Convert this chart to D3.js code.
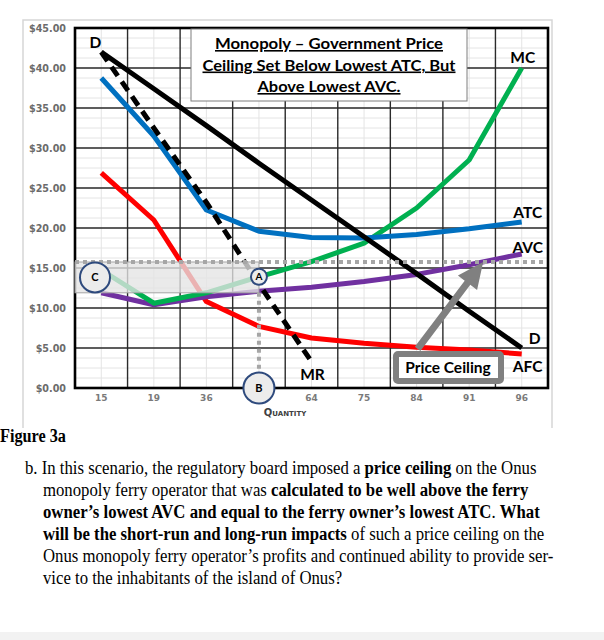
<!DOCTYPE html>
<html>
<head>
<meta charset="utf-8">
<script src="https://cdn.jsdelivr.net/npm/d3@7"></script>
<style>
  body { margin: 0; background: #fff; }
  svg { display: block; }
</style>
</head>
<body>
<svg width="604" height="640"></svg>
<script>
// quantities on the category axis (the one under "B" has no printed label)
const categories = [15, 19, 36, 48, 64, 75, 84, 91, 96];
const tickLabels = ["15", "19", "36", "", "64", "75", "84", "91", "96"];
const priceTicks = [0, 5, 10, 15, 20, 25, 30, 35, 40, 45];

// $ per unit
const demand = [42.0, 37.4, 32.8, 28.1, 23.5, 18.9, 14.3, 9.6, 5.0];
const marginalRevenue = [42.0, 32.5, 23.2, 13.0, 3.3, null, null, null, null];
const atc = [38.75, 31.5, 22.25, 19.6, 18.8, 18.75, 19.2, 19.9, 20.75];
const mc = [14.75, 10.6, 11.9, 13.9, 15.8, 18.1, 22.5, 28.5, 40.0];
const avc = [11.9, 10.4, 11.4, 12.1, 12.6, 13.3, 14.2, 15.4, 16.75];
const afc = [26.9, 21.0, 10.8, 7.7, 6.25, 5.6, 5.1, 4.75, 4.25];

const priceCeiling = 15.75;
const lossFloor = 11.9;

const titleLines = [
  "Monopoly \u2013 Government Price",
  "Ceiling Set Below Lowest ATC, But",
  "Above Lowest AVC."
];
const figureCaption = "Figure 3a";
const paragraph = [
  [["b. In this scenario, the regulatory board imposed a ", 0], ["price ceiling", 1], [" on the Onus", 0]],
  [["monopoly ferry operator that was ", 0], ["calculated to be well above the ferry", 1]],
  [["owner\u2019s lowest AVC and equal to the ferry owner\u2019s lowest ATC", 1], [". ", 0], ["What", 1]],
  [["will be the short-run and long-run impacts", 1], [" of such a price ceiling on the", 0]],
  [["Onus monopoly ferry operator\u2019s profits and continued ability to provide ser-", 0]],
  [["vice to the inhabitants of the island of Onus?", 0]]
];

const svg = d3.select("svg");
const plot = { left: 75, right: 548, top: 28, bottom: 388 };

const x = d3.scaleBand().domain(d3.range(categories.length)).range([plot.left, plot.right]);
const y = d3.scaleLinear().domain([0, 45]).range([plot.bottom, plot.top]);
const cx = (i) => x(i) + x.bandwidth() / 2;

// light outer chart frame
svg.append("path")
  .attr("d", "M23,428V20H552V428")
  .attr("fill", "none")
  .attr("stroke", "#d6d6d6")
  .attr("stroke-width", 1.5);

// minor grid
const grid = svg.append("g");
grid.selectAll(".hmin")
  .data(d3.range(0, 45.01, 1.25))
  .join("line")
  .attr("x1", plot.left).attr("x2", plot.right)
  .attr("y1", (d) => y(d)).attr("y2", (d) => y(d))
  .attr("stroke", "#e4e4e4").attr("stroke-width", 1);
grid.selectAll(".vmin")
  .data(d3.range(categories.length))
  .join("line")
  .attr("x1", cx).attr("x2", cx)
  .attr("y1", plot.top).attr("y2", plot.bottom)
  .attr("stroke", "#e4e4e4").attr("stroke-width", 1);

// major grid
grid.append("g").selectAll("line")
  .data(priceTicks.slice(1, -1))
  .join("line")
  .attr("x1", plot.left).attr("x2", plot.right)
  .attr("y1", (d) => y(d)).attr("y2", (d) => y(d))
  .attr("stroke", "#2b2b2b").attr("stroke-width", 1.4);
grid.append("g").selectAll("line")
  .data(d3.range(1, categories.length))
  .join("line")
  .attr("x1", (i) => x(i)).attr("x2", (i) => x(i))
  .attr("y1", plot.top).attr("y2", plot.bottom)
  .attr("stroke", "#2b2b2b").attr("stroke-width", 1.4);

svg.append("rect")
  .attr("x", plot.left).attr("y", plot.top)
  .attr("width", plot.right - plot.left).attr("height", plot.bottom - plot.top)
  .attr("fill", "none").attr("stroke", "#000").attr("stroke-width", 2.6);

// axes
const yAxis = svg.append("g")
  .attr("transform", `translate(${plot.left - 6},0)`)
  .call(d3.axisLeft(y).tickValues(priceTicks).tickSize(0).tickFormat((d) => "$" + d3.format(".2f")(d)));
yAxis.select(".domain").remove();
yAxis.selectAll("text")
  .attr("font-family", "DejaVu Sans").attr("font-weight", "bold")
  .attr("font-size", 9.6).attr("fill", "#6b6b6b");

const xAxis = svg.append("g")
  .attr("transform", `translate(0,${plot.bottom + 4})`)
  .call(d3.axisBottom(x).tickSize(0).tickFormat((i) => tickLabels[i]));
xAxis.select(".domain").remove();
xAxis.selectAll("text")
  .attr("font-family", "DejaVu Sans").attr("font-weight", "bold")
  .attr("font-size", 9).attr("fill", "#7a7a7a");

svg.append("text")
  .attr("x", 285).attr("y", 416)
  .attr("text-anchor", "middle")
  .attr("font-family", "DejaVu Sans").attr("font-weight", "bold")
  .attr("font-size", 10).attr("fill", "#404040")
  .style("font-variant", "small-caps")
  .text("Quantity");

// curves
const series = [
  { name: "AFC", values: afc, color: "#ff0000" },
  { name: "AVC", values: avc, color: "#7030a0" },
  { name: "MC", values: mc, color: "#00b050" },
  { name: "ATC", values: atc, color: "#0070c0" },
  { name: "D", values: demand, color: "#000000" },
  { name: "MR", values: marginalRevenue, color: "#000000", dash: "11,7" }
];
const line = d3.line()
  .defined((d) => d != null)
  .x((d, i) => cx(i))
  .y((d) => y(d));

svg.append("g").selectAll("path")
  .data(series)
  .join("path")
  .attr("d", (s) => line(s.values))
  .attr("fill", "none")
  .attr("stroke", (s) => s.color)
  .attr("stroke-width", 5)
  .attr("stroke-linejoin", "round")
  .attr("stroke-dasharray", (s) => s.dash || null);

// shaded loss box (washes out the curves under it)
svg.append("rect")
  .attr("x", plot.left).attr("y", y(priceCeiling))
  .attr("width", cx(3) - plot.left).attr("height", y(lossFloor) - y(priceCeiling))
  .attr("fill", "#e4e4e4").attr("fill-opacity", 0.78)
  .attr("stroke", "#a6a6a6").attr("stroke-width", 1);

// price ceiling dotted line and drop line A -> B
svg.append("line")
  .attr("x1", plot.left).attr("x2", plot.right - 4)
  .attr("y1", y(priceCeiling)).attr("y2", y(priceCeiling))
  .attr("stroke", "#a6a6a6").attr("stroke-width", 4).attr("stroke-dasharray", "4,4");
svg.append("line")
  .attr("x1", cx(3)).attr("x2", cx(3))
  .attr("y1", y(lossFloor)).attr("y2", y(0) - 12)
  .attr("stroke", "#a6a6a6").attr("stroke-width", 4).attr("stroke-dasharray", "4,4");

// gray arrow to the ceiling line
const tail = [cx(6) + 1, y(4.9)], tip = [cx(7) + 14, y(priceCeiling)];
(function drawArrow() {
  const dx = tip[0] - tail[0], dy = tip[1] - tail[1];
  const len = Math.hypot(dx, dy), ux = dx / len, uy = dy / len, px = -uy, py = ux;
  const sw = 3.5, hl = 26, hw = 12;
  const bx = tip[0] - ux * hl, by = tip[1] - uy * hl;
  const pts = [
    [tail[0] + px * sw, tail[1] + py * sw],
    [bx + px * sw, by + py * sw],
    [bx + px * hw, by + py * hw],
    tip,
    [bx - px * hw, by - py * hw],
    [bx - px * sw, by - py * sw],
    [tail[0] - px * sw, tail[1] - py * sw]
  ];
  svg.append("polygon")
    .attr("points", pts.map((p) => p.join(",")).join(" "))
    .attr("fill", "#808080");
})();

// price ceiling callout
svg.append("rect")
  .attr("x", 396).attr("y", 354).attr("width", 105).attr("height", 27)
  .attr("rx", 2)
  .attr("fill", "#fff").attr("stroke", "#808080").attr("stroke-width", 6);
svg.append("text")
  .attr("x", 448).attr("y", 373)
  .attr("text-anchor", "middle")
  .attr("font-family", "Lato").attr("font-weight", "bold").attr("font-size", 15.5)
  .attr("fill", "#000")
  .text("Price Ceiling");

// title box
svg.append("rect")
  .attr("x", 191).attr("y", 29).attr("width", 276).attr("height", 72)
  .attr("fill", "#fff").attr("stroke", "#7f7f7f").attr("stroke-width", 1);
const titleW = [228, 253, 143];
svg.append("g").selectAll("text")
  .data(titleLines)
  .join("text")
  .attr("x", 329).attr("y", (d, i) => 49 + i * 21.5)
  .attr("text-anchor", "middle")
  .attr("font-family", "Lato").attr("font-weight", "bold").attr("font-size", 16)
  .attr("textLength", (d, i) => titleW[i]).attr("lengthAdjust", "spacingAndGlyphs")
  .style("text-decoration", "underline")
  .text((d) => d);

// curve labels
const curveLabels = [
  { t: "D", x: cx(0) - 6, y: y(demand[0]) - 4 },
  { t: "MC", x: cx(8) + 1, y: y(mc[8]) - 5 },
  { t: "ATC", x: cx(8) + 6, y: y(atc[8]) - 4 },
  { t: "AVC", x: cx(8) + 6, y: y(avc[8]) - 1 },
  { t: "D", x: cx(8) + 13, y: y(demand[8]) - 4 },
  { t: "AFC", x: cx(8) + 6, y: y(afc[8]) + 18 },
  { t: "MR", x: cx(4) + 1, y: y(marginalRevenue[4]) + 18 }
];
svg.append("g").selectAll("text")
  .data(curveLabels)
  .join("text")
  .attr("x", (d) => d.x).attr("y", (d) => d.y)
  .attr("text-anchor", "middle")
  .attr("font-family", "Lato").attr("font-weight", "bold").attr("font-size", 15.5)
  .attr("fill", "#000")
  .text((d) => d.t);

// point markers
const markers = [
  { t: "C", x: plot.left + 20, y: y((priceCeiling + lossFloor) / 2), r: 15, fs: 11 },
  { t: "A", x: cx(3), y: y(mc[3]), r: 8, fs: 10 },
  { t: "B", x: cx(3), y: y(0), r: 15.5, fs: 11 }
];
const mk = svg.append("g").selectAll("g").data(markers).join("g");
mk.append("circle")
  .attr("cx", (d) => d.x).attr("cy", (d) => d.y).attr("r", (d) => d.r)
  .attr("fill", "#ececec").attr("stroke", "#2e4a7d").attr("stroke-width", 2);
mk.append("text")
  .attr("x", (d) => d.x).attr("y", (d) => d.y + d.fs * 0.36)
  .attr("text-anchor", "middle")
  .attr("font-family", "Lato").attr("font-weight", "bold")
  .attr("font-size", (d) => d.fs).attr("fill", "#000")
  .text((d) => d.t);

// caption and question text
svg.append("text")
  .attr("x", 0).attr("y", 442)
  .attr("font-family", "Liberation Serif").attr("font-weight", "bold").attr("font-size", 18)
  .attr("textLength", 66).attr("lengthAdjust", "spacingAndGlyphs")
  .text(figureCaption);

// the question text is set narrow: squeeze the block horizontally so line 1 ends where it does
const paraG = svg.append("g");
const para = paraG.selectAll("text")
  .data(paragraph)
  .join("text")
  .attr("y", (d, i) => 474 + i * 22)
  .attr("font-family", "Liberation Serif").attr("font-size", 18.5)
  .attr("fill", "#000");
para.selectAll("tspan")
  .data((d) => d)
  .join("tspan")
  .attr("font-weight", (d) => (d[1] ? "bold" : "normal"))
  .text((d) => d[0]);
const squeeze = (537 - 25) / para.nodes()[0].getComputedTextLength();
paraG.attr("transform", `scale(${squeeze},1)`);
para.attr("x", (d, i) => (i === 0 ? 25 : 43) / squeeze);

// page bottom strip
svg.append("rect")
  .attr("x", 0).attr("y", 632).attr("width", 604).attr("height", 8)
  .attr("fill", "#f2f2f2");
</script>
</body>
</html>
